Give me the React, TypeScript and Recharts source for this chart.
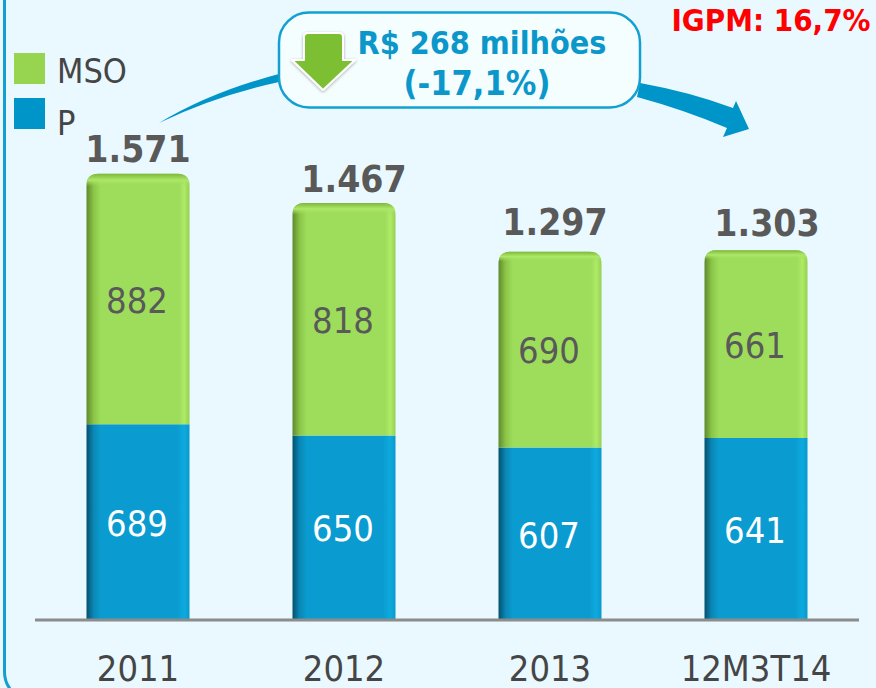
import React from "react";
import { ComposedChart, Bar, XAxis, YAxis, LabelList } from "recharts";

const categories = ["2011", "2012", "2013", "12M3T14"];
const pValues = [689, 650, 607, 641];
const msoValues = [882, 818, 690, 661];
const totalLabels = ["1.571", "1.467", "1.297", "1.303"];
const legendNames = ["MSO", "P"];
const rows = categories.map((c, i) => ({ c, P: pValues[i], MSO: msoValues[i], total: totalLabels[i] }));

// Hand-placed offsets of the total labels relative to their bars, as in the reference
const totalNudgeX = [0, 10, 5, 11];
const totalNudgeY = [-12, -11, -17, -14];

const FONT = "'DejaVu Sans', sans-serif";
const condensed = { fontFamily: FONT, fontStretch: "condensed" as const };
const BLUE = "#0095C8";
const GREEN = "#9BD65A";

function BarShape(props: any) {
  const { x, y, width, height, rounded, fillId, topId } = props;
  const r = rounded ? 12 : 0;
  const d = `M${x},${y + height} L${x},${y + r} Q${x},${y} ${x + r},${y} L${x + width - r},${y} Q${x + width},${y} ${x + width},${y + r} L${x + width},${y + height} Z`;
  return (
    <g>
      <path d={d} fill={`url(#${fillId})`} />
      {rounded ? <path d={d} fill={`url(#${topId})`} /> : null}
    </g>
  );
}

function TotalLabel(props: any) {
  const { x, y, width, value, index } = props;
  return (
    <text
      x={x + width / 2 + totalNudgeX[index]}
      y={y + totalNudgeY[index]}
      textAnchor="middle"
      fontSize={37}
      fontWeight="bold"
      fill="#595959"
      style={condensed}
    >
      {value}
    </text>
  );
}

function Tick(props: any) {
  const { x, y, payload } = props;
  return (
    <text x={x} y={y + 53} textAnchor="middle" fontSize={36} fill="#454545" style={condensed}>
      {payload.value}
    </text>
  );
}

function LegendBox() {
  return (
    <div style={{ position: "absolute", left: 14, top: 53 }}>
      {legendNames.map((name, i) => (
        <div key={name} style={{ position: "relative", height: 45, width: 120 }}>
          <div style={{ position: "absolute", left: 0, top: 0, width: 31, height: 31, background: i === 0 ? "#97D44F" : BLUE }} />
          <div style={{ position: "absolute", left: 43, top: i === 1 ? 5 : -2, fontSize: 34, lineHeight: "40px", color: "#454545", ...condensed }}>
            {name}
          </div>
        </div>
      ))}
    </div>
  );
}

export default function App() {
  return (
    <div style={{ position: "absolute", left: 0, top: 0, width: 876, height: 688, overflow: "hidden", background: "#EAF9FF" }}>
      <div style={{ position: "absolute", left: 3, top: -30, width: 900, height: 732, boxSizing: "border-box", border: "3px solid #12A0D0", borderRadius: 30 }} />
      <ComposedChart
        width={876}
        height={688}
        data={rows}
        margin={{ top: 52, right: 17, bottom: 0, left: 35 }}
        barCategoryGap="25%"
        style={{ position: "absolute", left: 0, top: 0 }}
      >
        <defs>
          <linearGradient id="gGreen" x1="0" x2="1" y1="0" y2="0">
            <stop offset="0" stopColor="#5E8A2C" />
            <stop offset="0.07" stopColor="#8CC548" />
            <stop offset="0.14" stopColor="#9DDD5B" />
            <stop offset="0.9" stopColor="#9DDD5B" />
            <stop offset="0.95" stopColor="#AEEB66" />
            <stop offset="1" stopColor="#95D052" />
          </linearGradient>
          <linearGradient id="gBlue" x1="0" x2="1" y1="0" y2="0">
            <stop offset="0" stopColor="#04506E" />
            <stop offset="0.07" stopColor="#0A88B6" />
            <stop offset="0.14" stopColor="#0A9CD0" />
            <stop offset="0.88" stopColor="#0A9CD0" />
            <stop offset="0.95" stopColor="#0DAADF" />
            <stop offset="1" stopColor="#0A98CB" />
          </linearGradient>
          <linearGradient id="gTop" x1="0" x2="0" y1="0" y2="1" gradientUnits="objectBoundingBox">
            <stop offset="0" stopColor="#7FB83C" />
            <stop offset="0.025" stopColor="#ADE868" />
            <stop offset="0.05" stopColor="#9DDD5B" stopOpacity="0" />
            <stop offset="1" stopColor="#9DDD5B" stopOpacity="0" />
          </linearGradient>
        </defs>
        <YAxis hide domain={[0, 2000]} />
        <XAxis
          dataKey="c"
          height={68}
          interval={0}
          axisLine={{ stroke: "#8C8C8C", strokeWidth: 3 }}
          tickLine={false}
          tick={<Tick />}
        />
        <Bar dataKey="P" stackId="a" fill={BLUE} isAnimationActive={false} shape={<BarShape fillId="gBlue" />}>
          <LabelList dataKey="P" position="center" fontSize={36} dy={1} dx={-1} fill="#FFFFFF" style={condensed} />
        </Bar>
        <Bar dataKey="MSO" stackId="a" fill={GREEN} isAnimationActive={false} shape={<BarShape fillId="gGreen" topId="gTop" rounded />}>
          <LabelList dataKey="MSO" position="center" fontSize={36} dy={1} dx={-1} fill="#595959" style={condensed} />
          <LabelList dataKey="total" content={<TotalLabel />} />
        </Bar>
      </ComposedChart>
      <LegendBox />
      <svg width={876} height={688} style={{ position: "absolute", left: 0, top: 0, pointerEvents: "none" }}>
        <defs>
          <filter id="aShadow" x="-20%" y="-20%" width="140%" height="140%">
            <feDropShadow dx="0" dy="1" stdDeviation="1.5" floodColor="#000" floodOpacity="0.35" />
          </filter>
        </defs>
        <path d="M159,123 Q210,92 279,74 L279,82 Q215,96 159,123 Z" fill={BLUE} />
        <path d="M640,83 Q690,92 733,108 L736,101 L749,129 L723,137 L727,128 Q685,110 637,97 Z" fill={BLUE} />
        <rect x={279} y={12.5} width={361} height={95} rx={30} fill="#F5FEFF" stroke="#12A0D0" strokeWidth={2.5} />
        <path
          d="M304,37 Q304,33 308,33 L339,33 Q343,33 343,37 L343,60 L355,60 L323,90 L292,60 L304,60 Z"
          fill="#7CBF33"
          stroke="#FFFFFF"
          strokeWidth={2}
          strokeLinejoin="round"
          filter="url(#aShadow)"
        />
        <text x={482} y={54} textAnchor="middle" fontSize={32} fontWeight="bold" fill="#0B97C9" style={condensed}>
          R$ 268 milhões
        </text>
        <text x={477} y={95} textAnchor="middle" fontSize={34} fontWeight="bold" fill="#0B97C9" style={condensed}>
          (-17,1%)
        </text>
        <text x={771} y={31} textAnchor="middle" fontSize={31} fontWeight="bold" fill="#FF0000" style={condensed}>
          IGPM: 16,7%
        </text>
      </svg>
    </div>
  );
}
